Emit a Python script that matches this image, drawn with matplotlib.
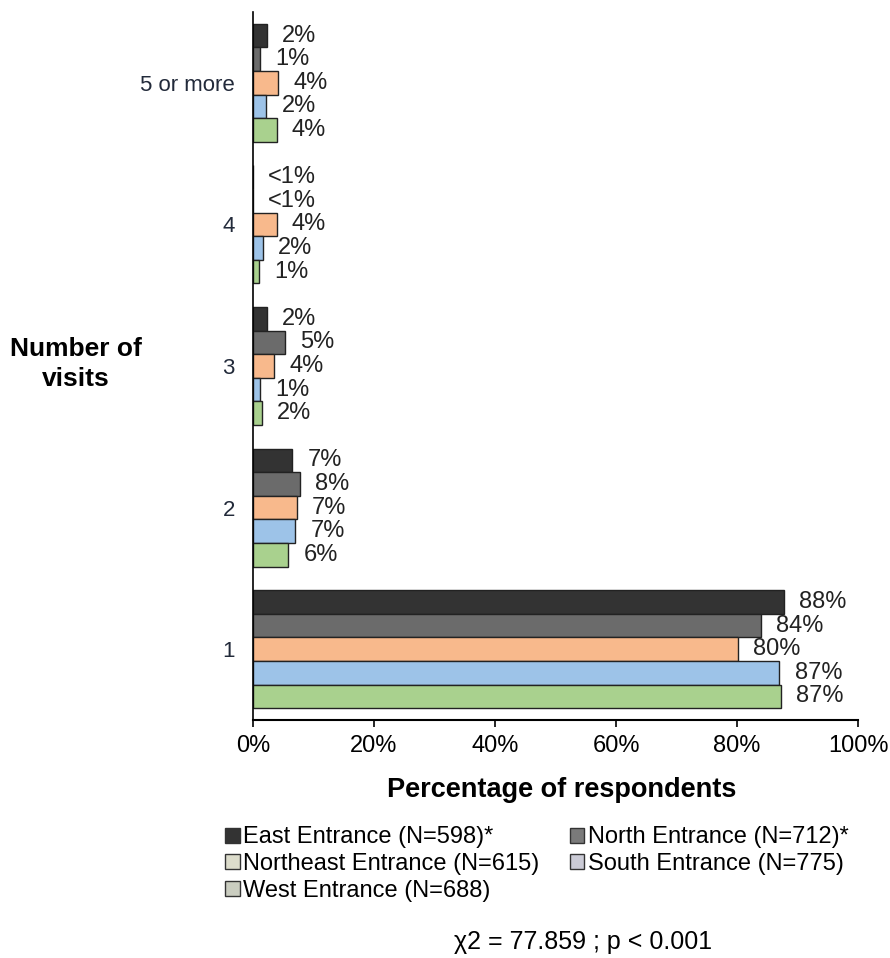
import matplotlib.pyplot as plt
import numpy as np
from matplotlib.patches import Patch

plt.rcParams['font.family'] = ['Liberation Sans', 'DejaVu Sans']

# data, bottom-to-top category order
visits = ['1', '2', '3', '4', '5 or more']
entrances = ['East Entrance (N=598)*', 'North Entrance (N=712)*',
             'Northeast Entrance (N=615)', 'South Entrance (N=775)',
             'West Entrance (N=688)']
east = [87.8, 6.5, 2.3, 0, 2.3]
north = [84.0, 7.8, 5.3, 0, 1.2]
northeast = [80.2, 7.2, 3.5, 3.9, 4.1]
south = [87.0, 7.0, 1.2, 1.6, 2.2]
west = [87.2, 5.8, 1.5, 1.0, 3.9]
east_lbl = ['88%', '7%', '2%', '<1%', '2%']
north_lbl = ['84%', '8%', '5%', '<1%', '1%']
northeast_lbl = ['80%', '7%', '4%', '4%', '4%']
south_lbl = ['87%', '7%', '1%', '2%', '2%']
west_lbl = ['87%', '6%', '2%', '1%', '4%']

series = [east, north, northeast, south, west]
labels = [east_lbl, north_lbl, northeast_lbl, south_lbl, west_lbl]
colors = ['#333333', '#6b6b6b', '#f8b98c', '#9dc3e8', '#a9d18e']
legend_colors = ['#333333', '#7a7a7a', '#dcdccb', '#cbcbd6', '#cacdc0']

fig = plt.figure(figsize=(8.9, 9.58), dpi=100)
ax = fig.add_axes([253/890, 1-720/958, 605/890, 708/958])

y = np.arange(len(visits))
h = 0.1667
offsets = [2*h, h, 0, -h, -2*h]
for vals, lbls, col, off in zip(series, labels, colors, offsets):
    bars = ax.barh(y + off, vals, height=h, color=col, edgecolor='#222222', linewidth=1)
    for b, v, t in zip(bars, vals, lbls):
        ax.annotate(t, (v, b.get_y() + h/2), xytext=(11, 0), textcoords='offset points',
                    va='center', ha='left', fontsize=17, color='#222222')

ax.set_xlim(0, 100)
ax.set_ylim(-0.5, 4.5)
ax.set_xticks(np.arange(0, 101, 20))
ax.set_xticklabels([f'{v}%' for v in range(0, 101, 20)], fontsize=17)
ax.set_yticks(y)
ax.set_yticklabels(visits, fontsize=16, color='#222a3a')
ax.tick_params(axis='y', length=0, pad=13)
ax.tick_params(axis='x', length=5, width=1.2, direction='out', pad=6)
for s in ['top', 'right']:
    ax.spines[s].set_visible(False)
ax.spines['left'].set_linewidth(1.2)
ax.spines['bottom'].set_linewidth(1.5)

fig.text(562/890, 1-790/958, 'Percentage of respondents', ha='center', va='center',
         fontsize=19.5, fontweight='bold')
fig.text(76/890, 1-364/958, 'Number of\nvisits', ha='center', va='center',
         fontsize=19, fontweight='bold', linespacing=1.35)

# legend filled column-wise: col1 East, Northeast, West; col2 North, South
order = [0, 2, 4, 1, 3]
handles = [Patch(facecolor=legend_colors[i], edgecolor='#333333', linewidth=1) for i in order]
fig.legend(handles, [entrances[i] for i in order], loc='upper left',
           bbox_to_anchor=(216/890, 1-817/958), ncol=2, frameon=False, fontsize=17,
           handlelength=0.6, handleheight=0.6, handletextpad=0.15, columnspacing=1.3,
           labelspacing=0.2, borderaxespad=0)

fig.text(583/890, 1-942/958, 'χ2 = 77.859 ; p < 0.001', ha='center', va='center', fontsize=18)

fig.savefig('out.png', dpi=100)
